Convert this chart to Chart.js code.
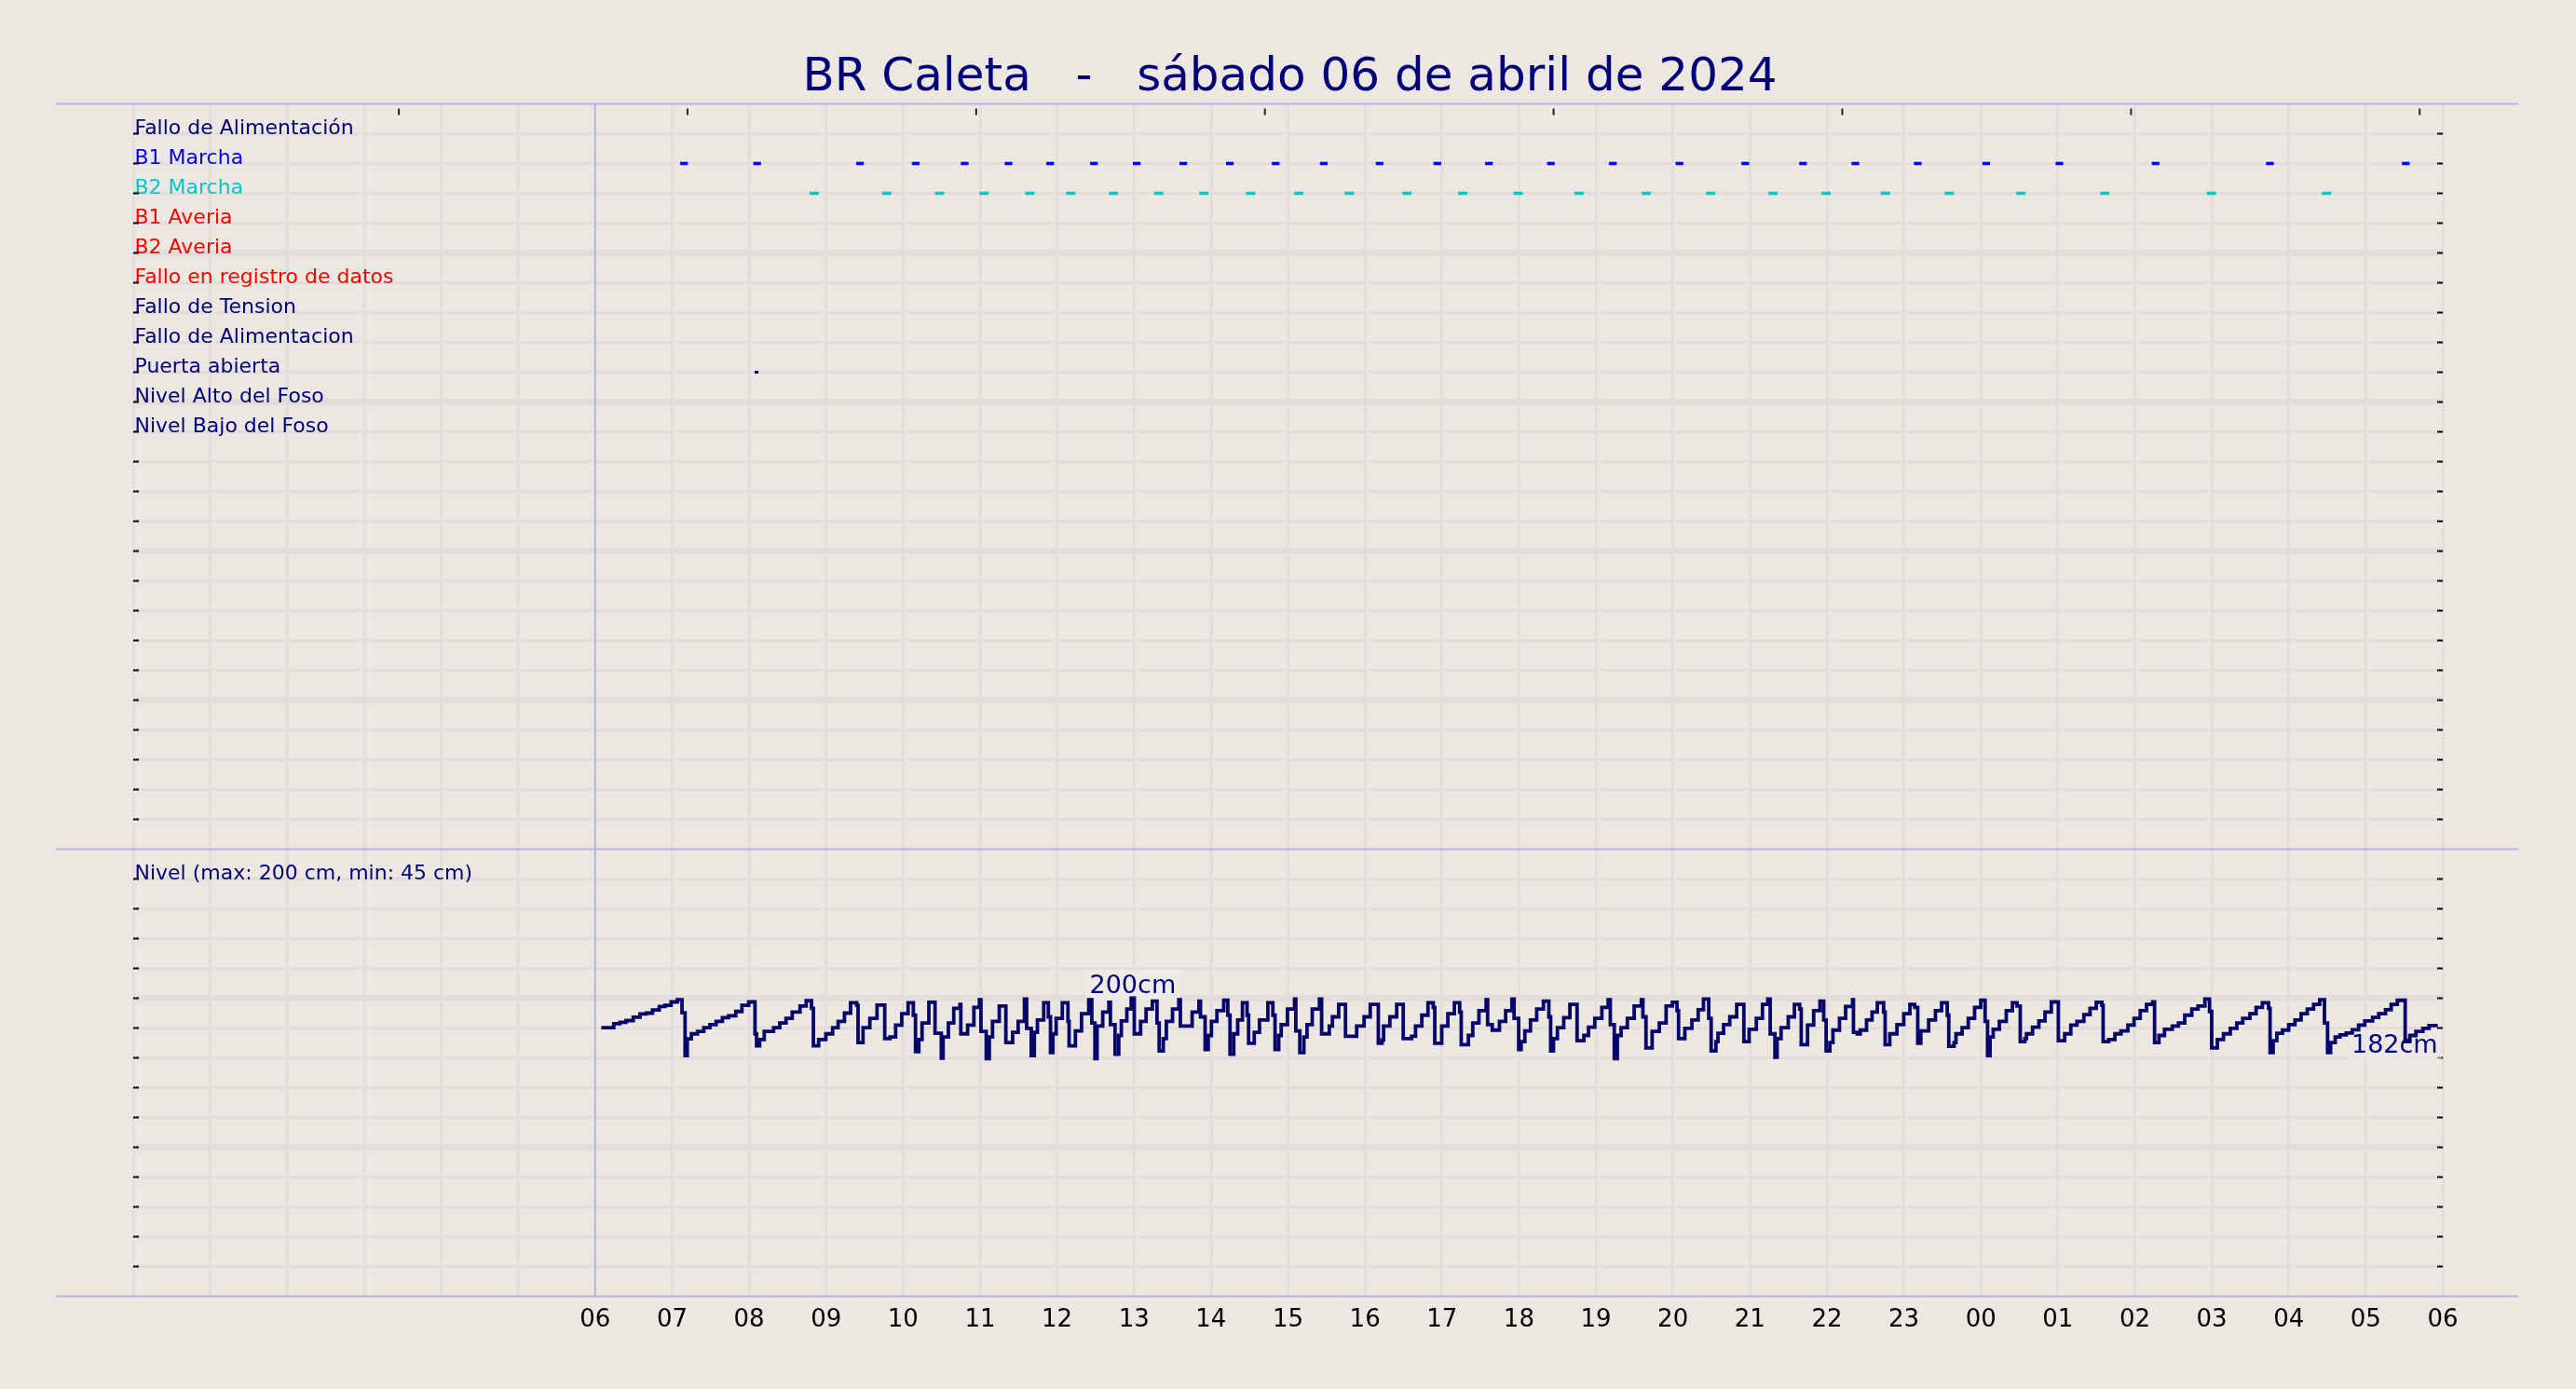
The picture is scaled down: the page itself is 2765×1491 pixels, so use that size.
<!DOCTYPE html>
<html><head><meta charset="utf-8">
<script src="https://cdn.jsdelivr.net/npm/chart.js@4.4.1/dist/chart.umd.min.js"></script>
<style>html,body{margin:0;padding:0;background:#ece7e1;}canvas{display:block;}</style>
</head><body>
<canvas id="c" width="2765" height="1491"></canvas>
<script>
// ---------------- data ----------------
const titleText = 'BR Caleta   -   sábado 06 de abril de 2024';
const rowLabels = ['Fallo de Alimentación','B1 Marcha','B2 Marcha','B1 Averia','B2 Averia','Fallo en registro de datos','Fallo de Tension','Fallo de Alimentacion','Puerta abierta','Nivel Alto del Foso','Nivel Bajo del Foso'];
const rowColors = ['#000078','#0000ff','#00c8c8','#ff0000','#ff0000','#ff0000','#000078','#000078','#000078','#000078','#000078'];
// x values: minutes after 06:00 of the day
const xStartMin = -360, xEndMin = 1440;
const startHour = 6;
const topTickMinutes = [-153, 72, 297, 522, 747, 972, 1197, 1422];
const b1Runs = [[66.3,72.3],[123.3,129.3],[203.4,209.4],[246.9,252.9],[285,291],[319.2,325.2],[351.6,357.6],[385.8,391.8],[419.1,425.1],[455.4,461.4],[491.7,497.7],[527.4,533.4],[564.9,570.9],[608.4,614.4],[653.4,659.4],[693.6,699.6],[741.9,747.9],[790.2,796.2],[842.1,848.1],[893.4,899.4],[938.4,944.4],[979.2,985.2],[1027.8,1033.8],[1081.2,1087.2],[1138.2,1144.2],[1213.2,1219.2],[1302.3,1308.3],[1408.2,1414.2]];
const b2Runs = [[167.1,174.3],[223.6,230.8],[264.8,272.0],[299.5,306.7],[335.2,342.4],[367.1,374.3],[400.4,407.6],[435.6,442.8],[470.8,478.0],[507.3,514.5],[544.8,552.0],[584.2,591.4],[629.1,636.3],[672.6,679.8],[715.8,723.0],[763.2,770.4],[815.7,822.9],[865.8,873.0],[914.4,921.6],[955.8,963.0],[1002.0,1009.2],[1051.8,1059.0],[1107.6,1114.8],[1173.0,1180.2],[1256.1,1263.3],[1345.8,1353.0]];
const doorRuns = [[124.3,127.3]];
const levelMaxCm = 200, levelMinCm = 45;
const levelMinutes = [4.8,14.5,19.3,24.1,29.7,35.0,39.9,44.7,50.0,54.4,59.2,64.1,67.7,70.1,71.8,75.0,79.8,84.7,89.5,94.3,99.2,104.0,109.6,114.4,119.7,124.6,125.8,128.2,131.8,139.1,143.9,148.8,153.6,159.7,164.5,168.6,170.1,174.2,179.8,185.1,189.4,194.3,199.1,203.9,204.9,208.8,214.1,219.7,225.7,229.8,234.2,239.0,243.9,248.0,249.7,252.3,254.8,260.1,264.9,269.8,271.2,275.3,279.5,284.3,285.0,290.3,295.2,
299.5,300.7,304.8,307.2,309.7,315.0,320.1,325.4,329.7,334.6,336.3,339.9,342.3,344.7,349.6,353.2,354.9,356.8,359.3,364.1,368.5,369.4,374.3,379.1,384.7,387.1,389.5,391.2,395.6,400.4,401.6,405.2,408.1,410.1,414.4,417.8,420.2,425.1,429.4,434.3,437.9,439.6,442.8,445.2,450.0,454.9,456.1,465.3,470.6,471.8,475.4,477.8,480.3,484.6,489.9,493.1,494.8,497.7,500.8,504.5,508.1,509.3,513.7,517.8,524.3,528.2,529.9,532.8,534.7,539.6,545.1,546.1,549.2,552.4,554.8,558.9,564.5,566.2,572.2,574.6,579.5,584.8,593.5,
599.3,604.1,610.4,613.3,614.5,619.4,624.7,629.8,636.3,639.4,644.3,649.1,653.2,654.4,659.8,664.6,669.7,673.8,675.0,680.6,684.0,688.8,694.4,695.6,699.2,704.8,709.6,714.5,716.2,719.8,721.7,724.6,729.0,733.8,739.1,743.3,744.7,746.9,750.0,754.9,759.7,765.3,770.6,774.2,779.1,784.6,789.5,791.2,794.3,796.7,799.6,804.5,809.8,815.4,816.6,819.0,823.8,829.4,834.7,839.6,843.2,844.4,849.3,854.8,859.7,863.8,867.9,869.8,873.5,875.1,879.5,884.3,889.7,
895.3,899.4,905.0,909.8,913.9,915.8,919.5,921.2,924.3,929.9,934.7,938.8,940.0,944.9,949.7,954.6,957.5,959.4,962.3,964.7,969.8,974.6,980.0,980.7,983.6,986.0,990.9,995.2,999.3,1004.2,1005.4,1009.0,1014.6,1019.9,1024.7,1028.4,1030.8,1033.2,1039.3,1044.6,1049.4,1053.8,1055.0,1059.1,1060.6,1065.4,1070.2,1075.1,1079.9,1083.3,1085.2,1087.2,1089.6,1094.4,1099.8,1104.6,1108.2,1110.7,1114.3,1115.5,1120.3,1125.2,1130.0,1134.9,1140.4,1145.3,1150.1,1154.9,1160.3,1165.1,1169.9,1174.3,1175.3,1179.6,1184.5,
1189.2,1194.6,1199.4,1204.2,1209.1,1213.9,1215.4,1218.8,1223.1,1229.2,1234.0,1238.9,1244.4,1249.3,1254.6,1258.2,1259.9,1264.3,1269.1,1274.4,1279.5,1284.1,1289.7,1294.5,1299.4,1304.2,1305.4,1307.8,1310.7,1315.1,1319.9,1324.8,1329.6,1334.4,1339.3,1344.1,1347.8,1350.2,1352.6,1356.2,1359.9,1364.7,1369.5,1374.4,1379.2,1385.3,1390.1,1395.4,1399.8,1404.6,1410.7,1414.3,1419.1,1424.5,1429.3,1436.1];
const levelCm = [180.2,182.9,183.8,185.0,187.3,189.4,190.0,192.1,194.4,195.2,197.5,199.0,190.2,161.5,172.7,176.1,177.7,180.2,182.3,184.4,186.9,188.2,191.1,195.2,197.5,176.1,168.1,172.3,177.7,180.2,183.4,186.5,190.7,194.8,198.4,193.2,168.1,172.3,176.1,180.2,184.4,190.0,196.9,195.2,170.2,180.2,186.5,195.4,172.9,174.0,181.9,189.6,196.9,188.6,164.2,172.3,183.4,197.3,176.5,159.8,174.0,183.4,193.2,195.9,176.1,181.9,193.8,
199.0,177.7,159.4,174.0,184.4,194.8,170.2,177.1,184.4,199.4,179.8,161.5,177.1,185.4,196.9,187.5,163.5,176.1,186.5,196.9,184.4,168.1,178.1,189.6,199.0,183.4,159.4,181.3,190.7,197.3,182.3,162.5,175.0,184.8,192.7,200.0,176.1,184.4,192.7,198.0,183.4,164.6,172.9,184.4,192.7,199.0,181.3,190.7,198.0,187.5,165.6,175.0,184.4,191.7,198.6,188.6,162.5,176.1,185.4,196.9,188.6,169.8,177.1,185.4,196.9,188.6,165.6,175.0,182.3,192.7,199.4,178.1,163.5,174.0,182.3,192.7,199.4,176.1,181.3,187.5,195.9,174.4,181.3,
187.5,195.9,169.8,171.9,181.3,187.5,195.9,172.9,174.4,181.3,188.6,196.9,193.8,169.8,181.3,189.6,196.9,190.7,168.8,175.0,183.4,191.7,199.0,182.3,178.6,184.4,191.7,199.4,186.5,165.6,170.8,178.1,185.4,192.7,198.0,187.5,164.6,172.9,180.2,186.9,195.9,171.5,175.0,180.6,186.5,193.8,199.0,182.3,159.4,175.0,180.2,186.5,194.8,199.0,187.5,166.7,177.7,183.4,194.8,197.3,191.7,172.9,179.8,185.4,192.3,199.4,186.5,164.6,170.8,176.5,182.3,187.5,195.9,
170.8,179.2,186.5,195.9,199.4,176.1,160.4,172.9,180.2,187.5,195.9,192.7,168.8,181.9,191.7,198.0,185.4,164.6,170.2,178.6,186.5,194.4,199.0,177.1,176.1,178.6,185.4,190.7,196.9,190.7,168.8,176.1,182.3,189.6,195.9,193.8,169.8,178.1,185.4,191.7,196.9,188.6,167.7,170.2,176.1,180.2,186.5,193.8,198.6,184.4,161.5,174.0,179.2,184.4,191.7,196.9,194.8,170.8,172.9,176.1,180.6,184.8,190.7,197.5,171.5,176.1,181.9,184.4,189.0,193.2,197.3,195.2,170.8,172.3,176.1,
178.1,181.9,186.5,191.7,195.9,197.5,170.2,175.0,179.2,181.3,183.4,188.6,192.7,194.8,199.4,191.1,166.7,172.3,176.1,179.8,183.4,186.5,189.6,193.8,196.9,193.2,163.5,171.5,176.5,178.6,182.3,185.4,189.6,192.7,195.9,199.0,183.4,163.5,170.2,174.0,175.4,176.7,178.8,181.9,184.8,187.1,189.6,192.3,195.9,198.6,170.8,175.0,177.7,179.8,181.7,181.7];

// ---------------- style ----------------
const BG = '#ece7e1', GRID = '#e2dcdb', SEP = '#b2b2fa', NAVY = '#000078';
const FONT = 'DejaVu Sans';

function runsToPoints(runs, row) {
  const pts = [];
  runs.forEach(([s, e]) => { pts.push({x: s, y: row}, {x: e, y: row}, {x: e, y: null}); });
  return pts;
}
const levelPoints = levelMinutes.map((m, i) => ({x: m, y: levelCm[i]}));
const levelTitle = 'Nivel (max: ' + levelMaxCm + ' cm, min: ' + levelMinCm + ' cm)';

const deco = {
  id: 'deco',
  beforeDraw(chart) {
    const c = chart.ctx;
    c.save(); c.fillStyle = BG; c.fillRect(0, 0, chart.width, chart.height); c.restore();
  },
  beforeDatasetsDraw(chart) {
    const c = chart.ctx, a = chart.chartArea, {x, yTop, yBot} = chart.scales;
    c.save();
    // title
    c.fillStyle = NAVY; c.font = '50px "' + FONT + '"'; c.textAlign = 'center'; c.textBaseline = 'alphabetic';
    c.fillText(titleText, chart.width / 2 + 2, 97);
    // vertical start line
    c.strokeStyle = SEP; c.lineWidth = 2;
    const x0 = x.getPixelForValue(0);
    c.beginPath(); c.moveTo(x0, a.top); c.lineTo(x0, a.bottom); c.stroke();
    // panel separators
    [yTop.getPixelForValue(0), yTop.getPixelForValue(25), yBot.getPixelForValue(0)].forEach(y => {
      c.beginPath(); c.moveTo(a.left - 83, y); c.lineTo(a.right + 81, y); c.stroke();
    });
    // top ticks
    c.strokeStyle = '#222'; c.lineWidth = 2;
    topTickMinutes.forEach(m => {
      const px = x.getPixelForValue(m);
      c.beginPath(); c.moveTo(px, a.top + 5); c.lineTo(px, a.top + 12); c.stroke();
    });
    // inner y ticks
    c.strokeStyle = '#000';
    const tickYs = [];
    yTop.ticks.forEach(t => { if (t.value > 0 && t.value < 25) tickYs.push(yTop.getPixelForValue(t.value)); });
    yBot.ticks.forEach(t => { if (t.value > 0 && t.value < 300) tickYs.push(yBot.getPixelForValue(t.value)); });
    tickYs.forEach(y => {
      c.beginPath(); c.moveTo(a.left, y); c.lineTo(a.left + 6, y); c.stroke();
      c.beginPath(); c.moveTo(a.right - 6, y); c.lineTo(a.right, y); c.stroke();
    });
    // level labels
    c.font = '27px "' + FONT + '"';
    let im = 0; levelCm.forEach((v, i) => { if (v > levelCm[im]) im = i; });
    const xm = (x.getPixelForValue(levelMinutes[im]) + x.getPixelForValue(levelMinutes[im + 1])) / 2;
    const ym = yBot.getPixelForValue(levelCm[im]) - 6;
    const tMax = Math.round(levelCm[im]) + 'cm';
    let w = c.measureText(tMax).width;
    c.fillStyle = 'rgba(238,234,230,0.9)';
    c.fillRect(xm - w / 2 - 4, ym - 24, w + 8, 33);
    c.fillStyle = NAVY; c.textAlign = 'center';
    c.fillText(tMax, xm, ym);
    const il = levelCm.length - 1;
    const xl = x.getPixelForValue(levelMinutes[il]);
    const yl = yBot.getPixelForValue(levelCm[il]) + 29;
    const tLast = Math.round(levelCm[il]) + 'cm';
    w = c.measureText(tLast).width;
    c.fillStyle = 'rgba(238,234,230,0.6)';
    c.fillRect(xl - w - 4, yl - 24, w + 8, 33);
    c.fillStyle = NAVY; c.textAlign = 'right';
    c.fillText(tLast, xl, yl);
    c.restore();
  }
};

function hourLabel(v) {
  if (v < 0) return '';
  const h = (Math.round(v / 60) + startHour) % 24;
  return (h < 10 ? '0' : '') + h;
}

const markerBase = {type: 'line', pointRadius: 0, borderCapStyle: 'butt', spanGaps: false, yAxisID: 'yTop', tension: 0};

new Chart(document.getElementById('c'), {
  type: 'line',
  data: {
    datasets: [
      Object.assign({}, markerBase, {label: rowLabels[1], data: runsToPoints(b1Runs, 2), borderColor: '#0000ff', borderWidth: 3.5}),
      Object.assign({}, markerBase, {label: rowLabels[2], data: runsToPoints(b2Runs, 3), borderColor: '#00c8c8', borderWidth: 3.5}),
      Object.assign({}, markerBase, {label: rowLabels[8], data: runsToPoints(doorRuns, 9), borderColor: NAVY, borderWidth: 3}),
      {type: 'line', label: 'Nivel', data: levelPoints, yAxisID: 'yBot', stepped: true, borderColor: '#05056a', borderWidth: 3.8, pointRadius: 0, borderJoinStyle: 'miter'}
    ]
  },
  options: {
    responsive: false, animation: false, devicePixelRatio: 1,
    layout: {padding: {left: 143, right: 143, top: 111.5, bottom: 0}},
    plugins: {legend: {display: false}, tooltip: {enabled: false}, title: {display: false}},
    scales: {
      x: {
        type: 'linear', position: 'bottom', min: xStartMin, max: xEndMin,
        afterFit(s) { s.height = 99.5; },
        ticks: {stepSize: 60, autoSkip: false, maxRotation: 0, padding: 10, color: '#000', font: {family: FONT, size: 26}, callback: hourLabel},
        grid: {drawTicks: false, color: (ctx) => ctx.tick && ctx.tick.value === 0 ? 'rgba(0,0,0,0)' : GRID, lineWidth: 2.7},
        border: {display: false}
      },
      yBot: {
        type: 'linear', position: 'left', stack: 'panels', stackWeight: 15, min: 0, max: 300,
        afterFit(s) { s.width = 0; },
        ticks: {stepSize: 20, mirror: true, padding: 1.5, labelOffset: -5, autoSkip: false,
          font: {family: FONT, size: 22}, color: NAVY,
          callback: (v) => v === 280 ? levelTitle : ''},
        grid: {drawTicks: false, color: (ctx) => (ctx.tick.value === 0 || ctx.tick.value === 300) ? 'rgba(0,0,0,0)' : GRID,
          lineWidth: (ctx) => ctx.tick.value % 100 === 0 ? 7 : 2.7},
        border: {display: false}
      },
      yTop: {
        type: 'linear', position: 'left', stack: 'panels', stackWeight: 25, min: 0, max: 25, reverse: true,
        afterFit(s) { s.width = 0; },
        ticks: {stepSize: 1, mirror: true, padding: 1.5, labelOffset: -5, autoSkip: false,
          font: {family: FONT, size: 22}, color: (ctx) => rowColors[ctx.tick.value - 1] || NAVY,
          callback: (v) => rowLabels[v - 1] || ''},
        grid: {drawTicks: false, color: (ctx) => (ctx.tick.value === 0 || ctx.tick.value === 25) ? 'rgba(0,0,0,0)' : GRID,
          lineWidth: (ctx) => ctx.tick.value % 5 === 0 ? 7 : 2.7},
        border: {display: false}
      }
    }
  },
  plugins: [deco]
});
</script>
</body></html>
